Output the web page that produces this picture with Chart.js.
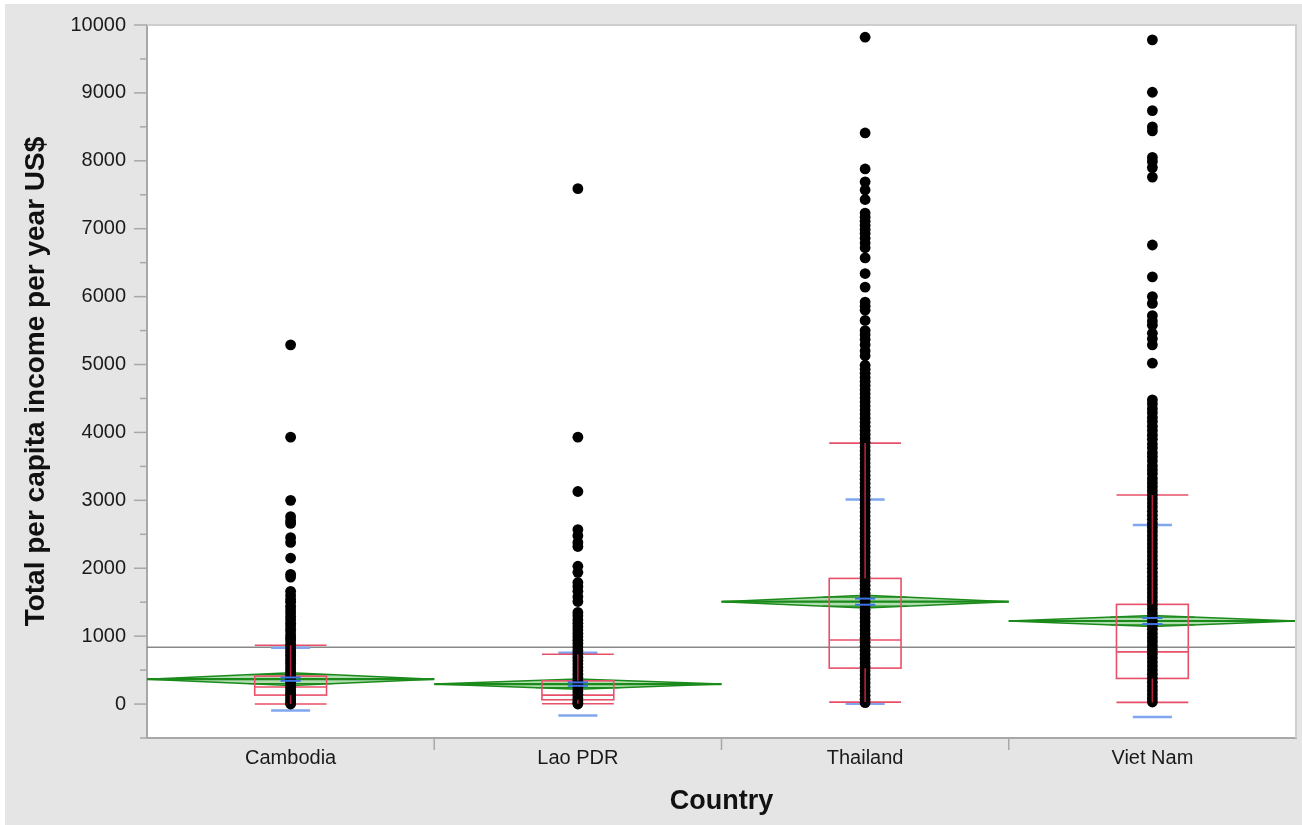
<!DOCTYPE html>
<html>
<head>
<meta charset="utf-8">
<script src="https://cdn.jsdelivr.net/npm/chart.js@4.4.1/dist/chart.umd.min.js"></script>
<style>
  html, body { margin: 0; padding: 0; background: #fff; }
  #wrap { width: 1302px; height: 825px; }
</style>
</head>
<body>
<div id="wrap"><canvas id="plot1" width="1302" height="825"></canvas></div>
<script>
var countries = ['Cambodia', 'Lao PDR', 'Thailand', 'Viet Nam'];
var yTicks = [0, 1000, 2000, 3000, 4000, 5000, 6000, 7000, 8000, 9000, 10000];
var yMinorTicks = [-500, 500, 1500, 2500, 3500, 4500, 5500, 6500, 7500, 8500, 9500];

// income values, one list per country
var cambodia = [5290, 3930, 3000, 2760, 2700, 2660, 2450, 2380, 2150, 1910, 1870, 1660, 1600, 1540, 1500,
  1440, 1390, 1340, 1290, 1240, 1190, 1150, 1100, 1060, 1010, 970, 930, 880, 840, 800, 760, 720, 680, 640,
  600, 560, 520, 480, 440, 400, 360, 320, 280, 240, 200, 160, 120, 80, 45, 15, 0];
var lao = [7590, 3930, 3130, 2570, 2480, 2380, 2320, 2030, 1940, 1790, 1730, 1660, 1580, 1510, 1350, 1300,
  1240, 1190, 1140, 1090, 1040, 990, 940, 890, 840, 790, 740, 690, 640, 590, 540, 490, 440, 390, 340, 290,
  240, 190, 140, 90, 50, 15, 0];
var thailand = [9820, 8410, 7880, 7690, 7570, 7430, 7230, 7170, 7110, 7050, 6990, 6930, 6860, 6790, 6720,
  6570, 6340, 6140, 5920, 5860, 5800, 5650, 5500, 5440, 5370, 5290, 5200, 5130, 4990, 4930, 4870, 4810,
  4750, 4690, 4630, 4570, 4510, 4450, 4390, 4330, 4270, 4210, 4150, 4090, 4030, 3970, 3910, 3850, 3790,
  3730, 3670, 3610, 3550, 3490, 3430, 3370, 3310, 3250, 3190, 3130, 3070, 3010, 2950, 2890, 2830, 2770,
  2710, 2650, 2590, 2530, 2470, 2410, 2350, 2290, 2230, 2170, 2110, 2050, 1990, 1930, 1870, 1810, 1750,
  1690, 1630, 1570, 1510, 1450, 1390, 1330, 1270, 1210, 1150, 1090, 1030, 970, 910, 850, 790, 730, 670,
  610, 550, 490, 430, 370, 310, 250, 190, 130, 70, 20];
var vietnam = [9780, 9010, 8740, 8500, 8440, 8050, 7990, 7900, 7760, 6760, 6290, 6000, 5900, 5720, 5640,
  5580, 5460, 5380, 5290, 5020, 4480, 4420, 4350, 4290, 4220, 4160, 4090, 4030, 3960, 3900, 3830, 3770,
  3700, 3640, 3580, 3510, 3450, 3390, 3320, 3260, 3200, 3140, 3080, 3020, 2960, 2900, 2840, 2780, 2720,
  2660, 2600, 2540, 2480, 2420, 2360, 2300, 2240, 2180, 2120, 2060, 2000, 1940, 1880, 1820, 1760, 1700,
  1640, 1580, 1520, 1460, 1400, 1340, 1280, 1220, 1160, 1100, 1040, 980, 920, 860, 800, 740, 680, 620,
  560, 500, 440, 380, 320, 260, 200, 140, 80, 30];

// summary statistics per country (same order as countries)
var means = [367, 294, 1508, 1223];
var meanCI = [95, 75, 95, 80];
var meanSE = [25, 25, 45, 45];
var stdDev = [462, 462, 1505, 1412];
var q1 = [132, 63, 529, 377];
var median = [250, 132, 944, 768];
var q3 = [411, 342, 1850, 1468];
var whiskerLo = [0, 5, 29, 24];
var whiskerHi = [866, 734, 3843, 3079];
var grandMean = 837;

var allPoints = [cambodia, lao, thailand, vietnam];
var fontFamily = "'Liberation Sans', Arial, sans-serif";

function hline(ctx, x1, x2, y) {
  ctx.beginPath();
  ctx.moveTo(x1, y);
  ctx.lineTo(x2, y);
  ctx.stroke();
}

var jmpPlugin = {
  id: 'jmpOverlay',
  beforeDraw: function (chart) {
    var ctx = chart.ctx, a = chart.chartArea;
    ctx.save();
    ctx.fillStyle = '#ffffff';
    ctx.fillRect(0, 0, chart.width, chart.height);
    ctx.fillStyle = '#e5e5e5';
    ctx.fillRect(5, 4, chart.width - 5, chart.height - 4);
    ctx.fillStyle = '#ffffff';
    ctx.fillRect(a.left, a.top, a.right - a.left, a.bottom - a.top);
    ctx.restore();
  },
  beforeDatasetsDraw: function (chart) {
    var ctx = chart.ctx, a = chart.chartArea;
    var xs = chart.scales.x, ys = chart.scales.y;
    ctx.save();
    ctx.beginPath();
    ctx.rect(a.left, a.top, a.right - a.left, a.bottom - a.top);
    ctx.clip();

    // grand mean
    ctx.strokeStyle = '#888888';
    ctx.lineWidth = 1.5;
    hline(ctx, a.left, a.right, ys.getPixelForValue(grandMean));

    countries.forEach(function (c, i) {
      var xc = xs.getPixelForValue(i);
      var xl = xs.getPixelForValue(i - 0.5), xr = xs.getPixelForValue(i + 0.5);
      var ym = ys.getPixelForValue(means[i]);
      var yt = ys.getPixelForValue(means[i] + meanCI[i]);
      var yb = ys.getPixelForValue(means[i] - meanCI[i]);

      // means diamond
      ctx.fillStyle = 'rgba(60,170,60,0.4)';
      ctx.strokeStyle = '#1a8a1a';
      ctx.lineWidth = 1.5;
      ctx.beginPath();
      ctx.moveTo(xl, ym);
      ctx.lineTo(xc, yt);
      ctx.lineTo(xr, ym);
      ctx.lineTo(xc, yb);
      ctx.closePath();
      ctx.fill();
      ctx.stroke();
      ctx.lineWidth = 2.2;
      hline(ctx, xl, xr, ym);
      // overlap marks
      ctx.lineWidth = 1.2;
      var k = Math.SQRT1_2;
      var ovw = (xr - xc) * (1 - k);
      hline(ctx, xc - ovw, xc + ovw, ys.getPixelForValue(means[i] + meanCI[i] * k));
      hline(ctx, xc - ovw, xc + ovw, ys.getPixelForValue(means[i] - meanCI[i] * k));

      // std dev lines
      var sdw = (xr - xl) * 0.068;
      ctx.strokeStyle = '#7fa6ef';
      ctx.lineWidth = 2.5;
      hline(ctx, xc - sdw, xc + sdw, ys.getPixelForValue(means[i] + stdDev[i]));
      hline(ctx, xc - sdw, xc + sdw, ys.getPixelForValue(means[i] - stdDev[i]));

      // quantile box
      var bw = (xr - xl) * 0.125;
      ctx.strokeStyle = '#e8506a';
      ctx.lineWidth = 1.6;
      var y1 = ys.getPixelForValue(q1[i]), y3 = ys.getPixelForValue(q3[i]);
      ctx.strokeRect(xc - bw, y3, bw * 2, y1 - y3);
      hline(ctx, xc - bw, xc + bw, ys.getPixelForValue(median[i]));
      hline(ctx, xc - bw, xc + bw, ys.getPixelForValue(whiskerHi[i]));
      hline(ctx, xc - bw, xc + bw, ys.getPixelForValue(whiskerLo[i]));
    });
    ctx.restore();
  },
  afterDatasetsDraw: function (chart) {
    var ctx = chart.ctx;
    var xs = chart.scales.x, ys = chart.scales.y;
    ctx.save();
    countries.forEach(function (c, i) {
      var xc = xs.getPixelForValue(i);
      var catw = xs.getPixelForValue(i + 0.5) - xs.getPixelForValue(i - 0.5);
      // whiskers
      ctx.strokeStyle = '#b3223a';
      ctx.lineWidth = 1.6;
      ctx.beginPath();
      ctx.moveTo(xc, ys.getPixelForValue(whiskerHi[i]));
      ctx.lineTo(xc, ys.getPixelForValue(q3[i]));
      ctx.moveTo(xc, ys.getPixelForValue(q1[i]));
      ctx.lineTo(xc, ys.getPixelForValue(whiskerLo[i]));
      ctx.stroke();
      // mean error bars
      var sew = catw * 0.035;
      ctx.strokeStyle = '#3d73e6';
      ctx.lineWidth = 2;
      hline(ctx, xc - sew, xc + sew, ys.getPixelForValue(means[i] + meanSE[i]));
      hline(ctx, xc - sew, xc + sew, ys.getPixelForValue(means[i] - meanSE[i]));
    });
    ctx.restore();
  },
  afterDraw: function (chart) {
    var ctx = chart.ctx, a = chart.chartArea;
    var xs = chart.scales.x, ys = chart.scales.y;
    ctx.save();
    // top and right frame
    ctx.strokeStyle = '#cfcfcf';
    ctx.lineWidth = 2;
    ctx.beginPath();
    ctx.moveTo(a.left, a.top);
    ctx.lineTo(a.right, a.top);
    ctx.lineTo(a.right, a.bottom);
    ctx.stroke();
    // y tick marks
    ctx.strokeStyle = '#a8a8a8';
    ctx.lineWidth = 1.5;
    yTicks.forEach(function (v) {
      hline(ctx, a.left - 13, a.left, ys.getPixelForValue(v));
    });
    yMinorTicks.forEach(function (v) {
      hline(ctx, a.left - 7, a.left, ys.getPixelForValue(v));
    });
    // x category separators
    ctx.beginPath();
    [0.5, 1.5, 2.5].forEach(function (v) {
      var px = xs.getPixelForValue(v);
      ctx.moveTo(px, a.bottom);
      ctx.lineTo(px, a.bottom + 12);
    });
    ctx.stroke();
    ctx.restore();
  }
};

var datasets = allPoints.map(function (vals, i) {
  return {
    label: countries[i],
    data: vals.map(function (v) { return { x: i, y: v }; }),
    pointRadius: 5.4,
    pointBackgroundColor: '#000',
    pointBorderWidth: 0,
    showLine: false
  };
});

var chart = new Chart(document.getElementById('plot1'), {
  type: 'scatter',
  data: { datasets: datasets },
  plugins: [jmpPlugin],
  options: {
    responsive: false,
    animation: false,
    devicePixelRatio: 1,
    layout: { padding: { top: 15, right: 6, left: 0, bottom: 0 } },
    plugins: { legend: { display: false }, tooltip: { enabled: false } },
    scales: {
      x: {
        type: 'linear',
        min: -0.5,
        max: 3.5,
        afterBuildTicks: function (scale) {
          scale.ticks = countries.map(function (c, i) { return { value: i }; });
        },
        afterFit: function (scale) { scale.height = 87; },
        grid: { display: false },
        border: { display: true, color: '#a8a8a8', width: 2 },
        ticks: {
          padding: 0,
          color: '#1a1a1a',
          font: { family: fontFamily, size: 20 },
          callback: function (value) { return countries[value]; }
        },
        title: {
          display: true,
          text: 'Country',
          color: '#111',
          font: { family: fontFamily, size: 27, weight: 'bold' },
          padding: { top: 0, bottom: 7 }
        }
      },
      y: {
        type: 'linear',
        min: -500,
        max: 10000,
        afterBuildTicks: function (scale) {
          scale.ticks = yTicks.map(function (v) { return { value: v }; });
        },
        afterFit: function (scale) { scale.width = 147; },
        grid: { display: false },
        border: { display: true, color: '#a8a8a8', width: 2 },
        ticks: {
          padding: 13,
          color: '#1a1a1a',
          font: { family: fontFamily, size: 20 },
          callback: function (value) { return String(value); }
        },
        title: {
          display: true,
          text: 'Total per capita income per year US$',
          color: '#111',
          font: { family: fontFamily, size: 28, weight: 'bold' },
          padding: { top: 19, bottom: 0 }
        }
      }
    }
  }
});
</script>
</body>
</html>
